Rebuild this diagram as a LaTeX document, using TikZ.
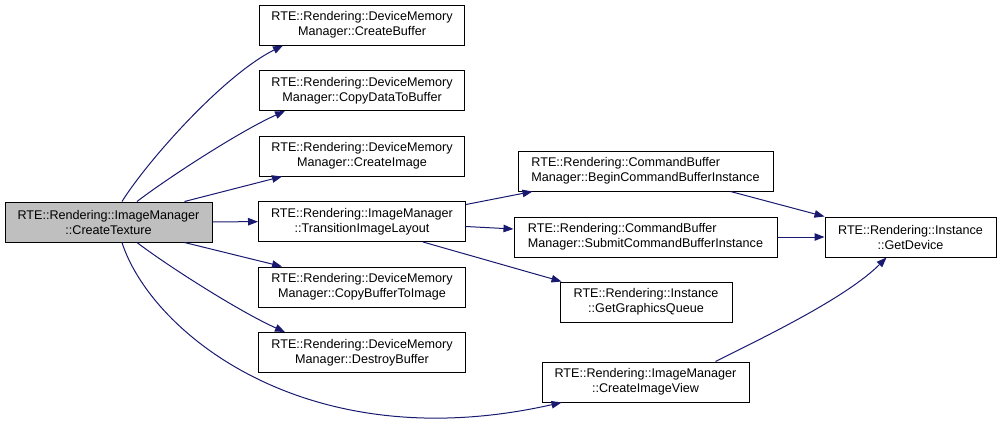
\documentclass[tikz,border=0pt]{standalone}
\usepackage{fontspec}
\setmainfont{Liberation Sans}
\usetikzlibrary{arrows.meta,positioning}
\definecolor{edgeblue}{HTML}{191970}
\definecolor{mainfill}{HTML}{BFBFBF}

\begin{document}
\begin{tikzpicture}[x=1pt,y=-1pt,font=\fontsize{12.6}{15}\selectfont,node distance=65.5pt,
	fn/.style={draw=black,line width=1pt,minimum height=40pt,inner sep=3pt,align=center},
	call/.style={draw=edgeblue,line width=1pt,-{Triangle[length=10pt,width=7.5pt]}}]
	\useasboundingbox (0,0) rectangle (1001,421);
	\node(ct)[fn,fill=mainfill,minimum width=207pt] at (108.5,222) {RTE::Rendering::ImageManager\\::CreateTexture};
	\node(cb)[fn,minimum width=205pt] at (362,25) {RTE::Rendering::DeviceMemory\\Manager::CreateBuffer};
	\node(cd)[fn,minimum width=205pt,below of=cb] {RTE::Rendering::DeviceMemory\\Manager::CopyDataToBuffer};
	\node(ci)[fn,minimum width=205pt,below of=cd] {RTE::Rendering::DeviceMemory\\Manager::CreateImage};
	\node(ti)[fn,minimum width=207pt,below of=ci] {RTE::Rendering::ImageManager\\::TransitionImageLayout};
	\node(cbi)[fn,minimum width=207pt,below of=ti] {RTE::Rendering::DeviceMemory\\Manager::CopyBufferToImage};
	\node(db)[fn,minimum width=207pt,below of=cbi] {RTE::Rendering::DeviceMemory\\Manager::DestroyBuffer};
	\node(bc)[fn,minimum width=255pt,align=left] at (645.5,171) {RTE::Rendering::CommandBuffer\\Manager::BeginCommandBufferInstance};
	\node(sc)[fn,minimum width=263pt,align=left,below of=bc,node distance=66pt] {RTE::Rendering::CommandBuffer\\Manager::SubmitCommandBufferInstance};
	\node(gq)[fn,minimum width=172pt,below of=sc,node distance=65pt,xshift=0.5pt] {RTE::Rendering::Instance\\::GetGraphicsQueue};
	\node(iv)[fn,minimum width=207pt] at (645.5,382) {RTE::Rendering::ImageManager\\::CreateImageView};
	\node(gd)[fn,minimum width=171pt] at (910.5,237) {RTE::Rendering::Instance\\::GetDevice};
	% calls from CreateTexture
	\draw[call] ([xshift=13.5pt]ct.north) .. controls +(25,-40) and +(-60,30) .. ([xshift=-79pt]cb.south);
	\draw[call] ([xshift=28.5pt]ct.north) .. controls +(30,-23) and +(-45,20) .. ([xshift=-77pt]cd.south);
	\draw[call] ([xshift=76pt]ct.north) -- ([xshift=-80pt]ci.south);
	\draw[call] (ct) -- (ti);
	\draw[call] ([xshift=76pt]ct.south) -- ([xshift=-80pt]cbi.north);
	\draw[call] ([xshift=28.5pt]ct.south) .. controls +(30,23) and +(-45,-20) .. ([xshift=-77pt]db.north);
	\draw[call] ([xshift=13.5pt]ct.south) .. controls +(28,88) and +(-257,58) .. ([xshift=-84pt]iv.south);
	% calls from TransitionImageLayout
	\draw[call] ([yshift=17pt]ti.east) -- ([xshift=15pt]bc.south west);
	\draw[call] ([yshift=-5pt]ti.east) -- ([yshift=8pt]sc.west);
	\draw[call] ([xshift=61pt]ti.south) -- ([xshift=2pt]gq.north west);
	% calls to GetDevice
	\draw[call] ([xshift=85pt]bc.south) -- (gd.north west);
	\draw[call] (sc) -- (gd);
	\draw[call] ([xshift=70pt]iv.north) .. controls +(50,-25) and +(-40,40) .. ([xshift=-24pt]gd.south);
\end{tikzpicture}
\end{document}
